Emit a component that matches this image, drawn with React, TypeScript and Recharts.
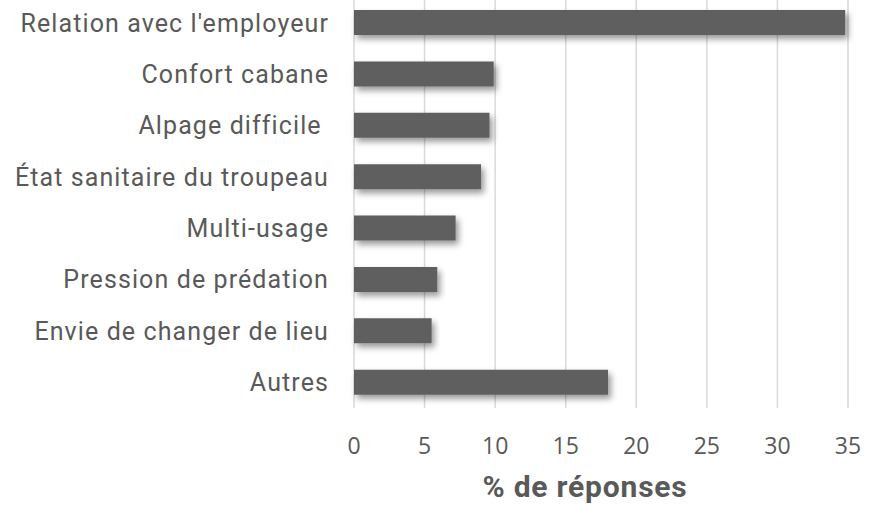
import React from 'react';
import { BarChart, Bar, XAxis, YAxis, CartesianGrid } from 'recharts';

const categories = [
  'Relation avec l\'employeur',
  'Confort cabane',
  'Alpage difficile\u00a0',
  'État sanitaire du troupeau',
  'Multi-usage',
  'Pression de prédation',
  'Envie de changer de lieu',
  'Autres',
];
const percentages = [34.8, 9.9, 9.6, 9.0, 7.2, 5.9, 5.5, 18.0];
const xTicks = [0, 5, 10, 15, 20, 25, 30, 35];

const data = categories.map((name, i) => ({ name, value: percentages[i] }));

const App: React.FC = () => {
  return (
    <div style={{ position: 'absolute', left: 0, top: 0, width: 876, height: 505, background: '#fff' }}>
      <BarChart
        width={876}
        height={505}
        data={data}
        layout="vertical"
        margin={{ top: -3, right: 28, left: 0, bottom: 0 }}
      >
        <defs>
          <filter id="barShadow" x="-5%" y="-40%" width="115%" height="200%">
            <feDropShadow dx="3" dy="4" stdDeviation="3" floodColor="#000" floodOpacity="0.4" />
          </filter>
        </defs>
        <CartesianGrid horizontal={false} stroke="#d9d9d9" strokeWidth={1.5} />
        <XAxis
          type="number"
          domain={[0, 35]}
          ticks={xTicks}
          axisLine={false}
          tickLine={false}
          tickSize={0}
          tickMargin={30}
          height={97}
          tick={{ fill: '#595959', fontSize: 23, fontFamily: '"Open Sans", sans-serif' }}
          label={{
            value: '% de réponses',
            position: 'insideBottom',
            offset: 8,
            dx: -16,
            style: { fill: '#595959', fontSize: 30, fontWeight: 700, letterSpacing: 0.8, fontFamily: 'Roboto, sans-serif' },
          }}
        />
        <YAxis
          type="category"
          dataKey="name"
          width={354}
          axisLine={false}
          tickLine={false}
          tickSize={0}
          tickMargin={25}
          interval={0}
          tick={{ fill: '#595959', fontSize: 25, letterSpacing: 1.1, fontFamily: 'Roboto, sans-serif' }}
        />
        <Bar dataKey="value" fill="#5f5f5f" barSize={25} filter="url(#barShadow)" isAnimationActive={false} />
      </BarChart>
    </div>
  );
};

export default App;
